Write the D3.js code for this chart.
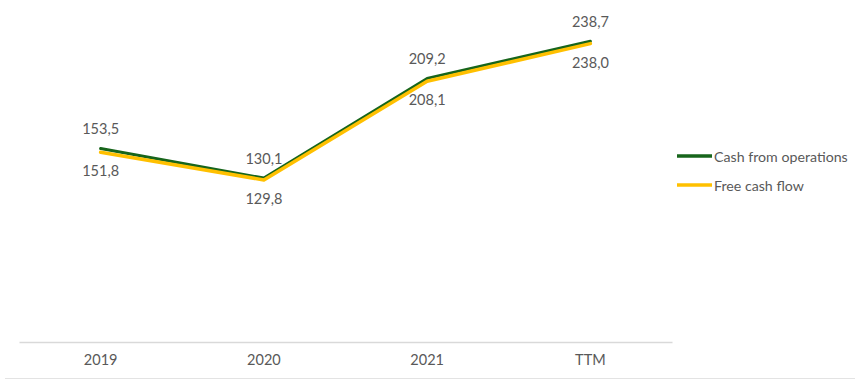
<!DOCTYPE html>
<html>
<head>
<meta charset="utf-8">
<script src="https://cdn.jsdelivr.net/npm/d3@7"></script>
<style>
  body { margin: 0; background: #fff; }
  svg text { font-family: Lato, "Open Sans", sans-serif; fill: #595959; }
</style>
</head>
<body>
<div id="chart"></div>
<script>
var categories = ["2019", "2020", "2021", "TTM"];
var cashFromOperations = [153.5, 130.1, 209.2, 238.7];
var freeCashFlow = [151.8, 129.8, 208.1, 238.0];

var width = 855,
  height = 388;
var margin = { top: 27, bottom: 46, left: 19, right: 183 };

var fmt = function (v) {
  return v.toFixed(1).replace(".", ",");
};

var svg = d3
  .select("#chart")
  .append("svg")
  .attr("width", width)
  .attr("height", height);

// x (category) scale
var xScale = d3
  .scaleBand()
  .domain(categories)
  .range([margin.left, width - margin.right]);

// y scale, 0 at the axis line
var yScale = d3
  .scaleLinear()
  .domain([0, 250])
  .range([height - margin.bottom, margin.top]);

var xc = function (c) {
  return xScale(c) + xScale.bandwidth() / 2;
};

// bottom border of the picture
svg
  .append("line")
  .attr("x1", 5)
  .attr("x2", width)
  .attr("y1", 378.5)
  .attr("y2", 378.5)
  .attr("stroke", "#e3e3e3")
  .attr("stroke-width", 1);

// x axis
svg
  .append("g")
  .attr("transform", `translate(0,${height - margin.bottom})`)
  .call(d3.axisBottom(xScale).tickSize(0).tickPadding(13).tickSizeOuter(0))
  .call((g) => g.select(".domain").attr("stroke", "#d9d9d9").attr("stroke-width", 1.5))
  .call((g) => g.selectAll("text").attr("font-size", 14.5).attr("fill", "#595959"));

var series = [
  { name: "Cash from operations", values: cashFromOperations, color: "#17651b", dy: -20, w: 3 },
  { name: "Free cash flow", values: freeCashFlow, color: "#ffc000", dy: 20, w: 3.5 },
];

var line = d3
  .line()
  .x((d, i) => xc(categories[i]))
  .y((d) => yScale(d));

series.forEach(function (s, k) {
  svg
    .append("path")
    .datum(s.values)
    .attr("fill", "none")
    .attr("stroke", s.color)
    .attr("stroke-width", s.w)
    .attr("stroke-linejoin", "round")
    .attr("stroke-linecap", "round")
    .attr("transform", k === 1 ? "translate(0,1.5)" : null)
    .attr("d", line);

  svg
    .append("g")
    .selectAll("text")
    .data(s.values)
    .join("text")
    .attr("x", (d, i) => xc(categories[i]))
    .attr("y", (d) => yScale(d) + s.dy)
    .attr("text-anchor", "middle")
    .attr("dominant-baseline", "central")
    .attr("font-size", 14.5)
    .text((d) => fmt(d));

  // legend
  var ly = 156 + k * 29;
  svg
    .append("line")
    .attr("x1", 677)
    .attr("x2", 712)
    .attr("y1", ly)
    .attr("y2", ly)
    .attr("stroke", s.color)
    .attr("stroke-width", 3.5);
  svg
    .append("text")
    .attr("x", 714)
    .attr("y", ly)
    .attr("dominant-baseline", "central")
    .attr("font-size", 14.2)
    .text(s.name);
});
</script>
</body>
</html>
